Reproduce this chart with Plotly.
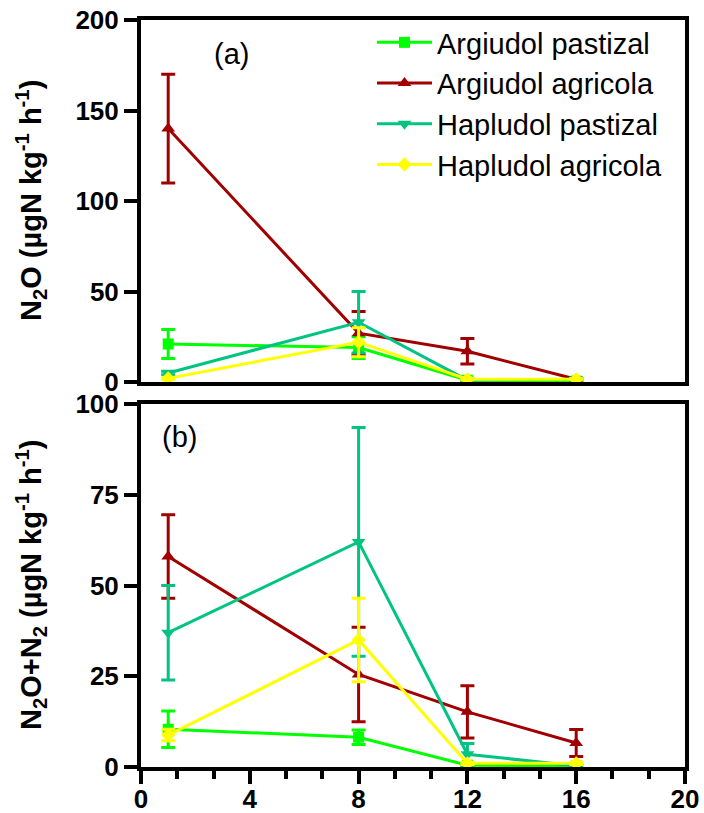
import plotly.graph_objects as go

# ---------------- data ----------------
days = [1, 8, 12, 16]
series_names = ["Argiudol pastizal", "Argiudol agricola", "Hapludol pastizal", "Hapludol agricola"]

# panel (a): N2O
n2o_arg_past = [21, 19, 1.0, 0.5]
n2o_arg_past_err = [8, 6, 0.3, 0.2]
n2o_arg_agri = [140, 27, 17, 1.5]
n2o_arg_agri_err = [30, 12, 7, 0.5]
n2o_hap_past = [5, 33, 1.0, 1.5]
n2o_hap_past_err = [1, 17, 0.5, 0.5]
n2o_hap_agri = [2, 22, 1.5, 1.5]
n2o_hap_agri_err = [0.5, 8, 0.3, 0.3]

# panel (b): N2O + N2
tot_arg_past = [10.4, 8.2, 0.5, 0.3]
tot_arg_past_err = [5, 2, 0.2, 0.2]
tot_arg_agri = [58, 25.5, 15.2, 6.6]
tot_arg_agri_err = [11.5, 13, 7.2, 3.7]
tot_hap_past = [37, 62, 3.5, 0.3]
tot_hap_past_err = [13, 31.5, 3, 0.3]
tot_hap_agri = [8.8, 35, 1.0, 1.0]
tot_hap_agri_err = [1.6, 11.5, 0.3, 0.3]

x_ticks = [0, 4, 8, 12, 16, 20]
y_ticks_a = [0, 50, 100, 150, 200]
y_ticks_b = [0, 25, 50, 75, 100]

# ---------------- styles ----------------
colors = ["#00FF00", "#A00000", "#00C480", "#FFFF00"]
symbols = ["square", "triangle-up", "triangle-down", "diamond"]
msizes = [11, 12, 12, 11]
FONT = "Liberation Sans, Arial, sans-serif"

panel_a = [(n2o_arg_past, n2o_arg_past_err), (n2o_arg_agri, n2o_arg_agri_err),
           (n2o_hap_past, n2o_hap_past_err), (n2o_hap_agri, n2o_hap_agri_err)]
panel_b = [(tot_arg_past, tot_arg_past_err), (tot_arg_agri, tot_arg_agri_err),
           (tot_hap_past, tot_hap_past_err), (tot_hap_agri, tot_hap_agri_err)]

fig = go.Figure()
for i, (vals, errs) in enumerate(panel_a):
    fig.add_trace(go.Scatter(
        x=days, y=vals, name=series_names[i], mode="lines+markers",
        line=dict(color=colors[i], width=3),
        marker=dict(symbol=symbols[i], size=msizes[i], color=colors[i]),
        error_y=dict(type="data", array=errs, color=colors[i], thickness=3, width=7),
        xaxis="x", yaxis="y", legendgroup=f"g{i}", showlegend=True))
for i, (vals, errs) in enumerate(panel_b):
    fig.add_trace(go.Scatter(
        x=days, y=vals, name=series_names[i], mode="lines+markers",
        line=dict(color=colors[i], width=3),
        marker=dict(symbol=symbols[i], size=msizes[i], color=colors[i]),
        error_y=dict(type="data", array=errs, color=colors[i], thickness=3, width=7),
        xaxis="x2", yaxis="y2", legendgroup=f"g{i}", showlegend=False))

tickfont = dict(family=FONT, size=26, color="black", weight="bold")
axis_common = dict(showline=True, linecolor="black", linewidth=4, mirror=True,
                   showgrid=False, zeroline=False, automargin=False)

L, R, T, B = 141, 19, 20, 46
W = 704 - L - R
H = 813 - T - B
top_bottom = (767 - 382) / H
bot_top = (767 - 404) / H

fig.update_layout(
    width=704, height=813,
    margin=dict(l=L, r=R, t=T, b=B, autoexpand=False),
    paper_bgcolor="white", plot_bgcolor="white",
    font=dict(family=FONT, color="black"),
    xaxis=dict(domain=[0, 1], range=[0, 20], anchor="y", ticks="", showticklabels=False,
               **axis_common),
    yaxis=dict(domain=[top_bottom, 1], range=[0, 200], tickvals=y_ticks_a,
               ticks="outside", ticklen=13, tickwidth=4, tickcolor="black",
               tickfont=tickfont, anchor="x", **axis_common),
    xaxis2=dict(domain=[0, 1], range=[0, 20], anchor="y2", tickvals=x_ticks,
                ticks="outside", ticklen=13, tickwidth=4, tickcolor="black",
                tickfont=tickfont, ticklabelstandoff=-7,
                minor=dict(dtick=4 / 3, tick0=0, ticks="outside", ticklen=8,
                           tickwidth=4, tickcolor="black"),
                **axis_common),
    yaxis2=dict(domain=[0, bot_top], range=[0, 100], tickvals=y_ticks_b,
                ticks="outside", ticklen=13, tickwidth=4, tickcolor="black",
                tickfont=tickfont, anchor="x2", **axis_common),
    legend=dict(x=(372 - L) / W, y=(767 - 17) / H, xanchor="left", yanchor="top",
                bgcolor="rgba(0,0,0,0)", borderwidth=0,
                font=dict(family=FONT, size=29, color="black"),
                itemwidth=55, traceorder="grouped", tracegroupgap=0),
    showlegend=True,
)

ann_font = dict(family=FONT, size=29, color="black")
fig.add_annotation(text="(a)", xref="paper", yref="paper", x=(231 - L) / W,
                   y=(767 - 54) / H, showarrow=False, font=ann_font,
                   xanchor="center", yanchor="middle")
fig.add_annotation(text="(b)", xref="paper", yref="paper", x=(179 - L) / W,
                   y=(767 - 437) / H, showarrow=False, font=ann_font,
                   xanchor="center", yanchor="middle")

title_font = dict(family=FONT, size=29, color="black")
fig.add_annotation(text="<b>N<sub>2</sub>O (µgN kg<sup>-1</sup> h<sup>-1</sup>)</b>",
                   xref="paper", yref="paper", x=(31 - L) / W, y=(767 - 201) / H,
                   textangle=-90, showarrow=False, font=title_font,
                   xanchor="center", yanchor="middle")
fig.add_annotation(text="<b>N<sub>2</sub>O+N<sub>2</sub> (µgN kg<sup>-1</sup> h<sup>-1</sup>)</b>",
                   xref="paper", yref="paper", x=(31 - L) / W, y=(767 - 585) / H,
                   textangle=-90, showarrow=False, font=title_font,
                   xanchor="center", yanchor="middle")

fig.write_html("out.html")
